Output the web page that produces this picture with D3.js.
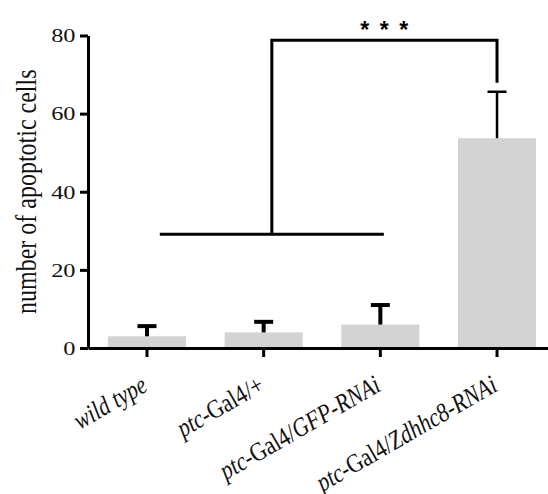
<!DOCTYPE html>
<html>
<head>
<meta charset="utf-8">
<script src="https://cdn.jsdelivr.net/npm/d3@7"></script>
<style>
  body { margin: 0; background: #fff; }
  svg { display: block; }
</style>
</head>
<body>
<div id="chart"></div>
<script>

// data
const categories = ["wild type", "ptc-Gal4/+", "ptc-Gal4/GFP-RNAi", "ptc-Gal4/Zdhhc8-RNAi"];
const labelParts = [
    [["wild type", true]],
    [["ptc", true], ["-Gal4/+", false]],
    [["ptc", true], ["-Gal4/", false], ["GFP-RNAi", true]],
    [["ptc", true], ["-Gal4/", false], ["Zdhhc8-RNAi", true]]
];
const means = [3, 4, 6, 53.7];
const sems = [2.6, 2.7, 5, 11.9];
const yTicks = [0, 20, 40, 60, 80];
const yLabel = "number of apoptotic cells";
const sigLabel = "***";

function drawBarChart(container) {

    d3.select(container).selectAll('*').remove();

    const W = 548, H = 494;
    const serif = "'Liberation Serif', 'Times New Roman', serif";
    // the text in the picture looks widened sideways
    const stretch = 1.25;

    const svg = d3.select(container)
        .append("svg")
        .attr("width", W)
        .attr("height", H);

    let x = d3.scaleBand()
        .domain(categories)
        .range([88, 556])
        .paddingInner(0.331)
        .paddingOuter(0.171);
    let y = d3.scaleLinear().domain([0, 80]).range([348, 35.5]);

    const step = x.step();
    const cx = function (i) { return x(categories[0]) + x.bandwidth() / 2 + i * step; };

    // bars
    svg.selectAll(".bar")
        .data(means)
        .enter().append("rect")
        .attr("class", "bar")
        .attr("x", function (d, i) { return x(categories[i]); })
        .attr("y", function (d) { return y(d); })
        .attr("width", x.bandwidth())
        .attr("height", function (d) { return y(0) - y(d); })
        .style("fill", "#d3d3d3");

    // error bars (upper only)
    const err = svg.selectAll(".err")
        .data(means)
        .enter().append("g")
        .attr("class", "err")
        .attr("stroke", "#000")
        .attr("stroke-width", function (d, i) { return i < 3 ? 4 : 2.5; });
    err.append("line")
        .attr("x1", function (d, i) { return cx(i); })
        .attr("x2", function (d, i) { return cx(i); })
        .attr("y1", function (d) { return y(d); })
        .attr("y2", function (d, i) { return y(d + sems[i]); });
    err.append("line")
        .attr("x1", function (d, i) { return cx(i) - 9.5; })
        .attr("x2", function (d, i) { return cx(i) + 9.5; })
        .attr("y1", function (d, i) { return y(d + sems[i]); })
        .attr("y2", function (d, i) { return y(d + sems[i]); });

    // X axis
    const gx = svg.append("g")
        .attr("transform", "translate(0," + y(0) + ")")
        .call(d3.axisBottom(x).tickSize(9).tickSizeOuter(0).tickFormat(""));
    gx.select(".domain").attr("stroke-width", 3);
    gx.selectAll(".tick line").attr("stroke-width", 3);

    // x labels, rotated
    categories.forEach(function (c, i) {
        const t = svg.append("text")
            .attr("transform", "translate(" + (cx(i) + 2) + ",390) rotate(-30) scale(1,1.2)")
            .style("text-anchor", "end")
            .style("font-family", serif)
            .style("font-size", "22px")
            .attr("fill", "#111");
        labelParts[i].forEach(function (p) {
            t.append("tspan")
                .style("font-style", p[1] ? "italic" : "normal")
                .text(p[0]);
        });
    });

    // Y axis
    const gy = svg.append("g")
        .attr("transform", "translate(88,0)")
        .call(d3.axisLeft(y).tickValues(yTicks).tickSize(8).tickSizeOuter(0).tickPadding(2));
    gy.select(".domain").attr("stroke-width", 3);
    gy.selectAll(".tick line").attr("stroke-width", 3);
    gy.selectAll(".tick text")
        .attr("transform", "scale(" + stretch + ",1)")
        .style("font-family", serif)
        .style("font-size", "19.5px")
        .attr("fill", "#111");

    svg.append("text")
        .attr("transform", "translate(35.5," + ((y(0) + y(80)) / 2) + ") scale(" + stretch + ",1) rotate(-90)")
        .style("text-anchor", "middle")
        .style("font-family", serif)
        .style("font-size", "24px")
        .attr("fill", "#111")
        .text(yLabel);

    // significance brackets
    const br = svg.append("g")
        .attr("fill", "none")
        .attr("stroke", "#000")
        .attr("stroke-width", 3);
    br.append("line")
        .attr("x1", cx(0.11)).attr("x2", cx(2.03))
        .attr("y1", y(29.1)).attr("y2", y(29.1));
    br.append("path")
        .attr("d", "M" + cx(1.07) + "," + y(29.1) +
            "V" + y(78.8) + "H" + cx(3) + "V" + y(67.9));

    svg.append("text")
        .attr("x", (cx(1.07) + cx(3)) / 2 + 5)
        .attr("y", 38)
        .style("text-anchor", "middle")
        .style("font-family", "'Liberation Sans', Arial, sans-serif")
        .style("font-weight", "bold")
        .style("font-size", "23px")
        .style("letter-spacing", "10.5px")
        .text(sigLabel);
}

drawBarChart("#chart");
</script>
</body>
</html>
